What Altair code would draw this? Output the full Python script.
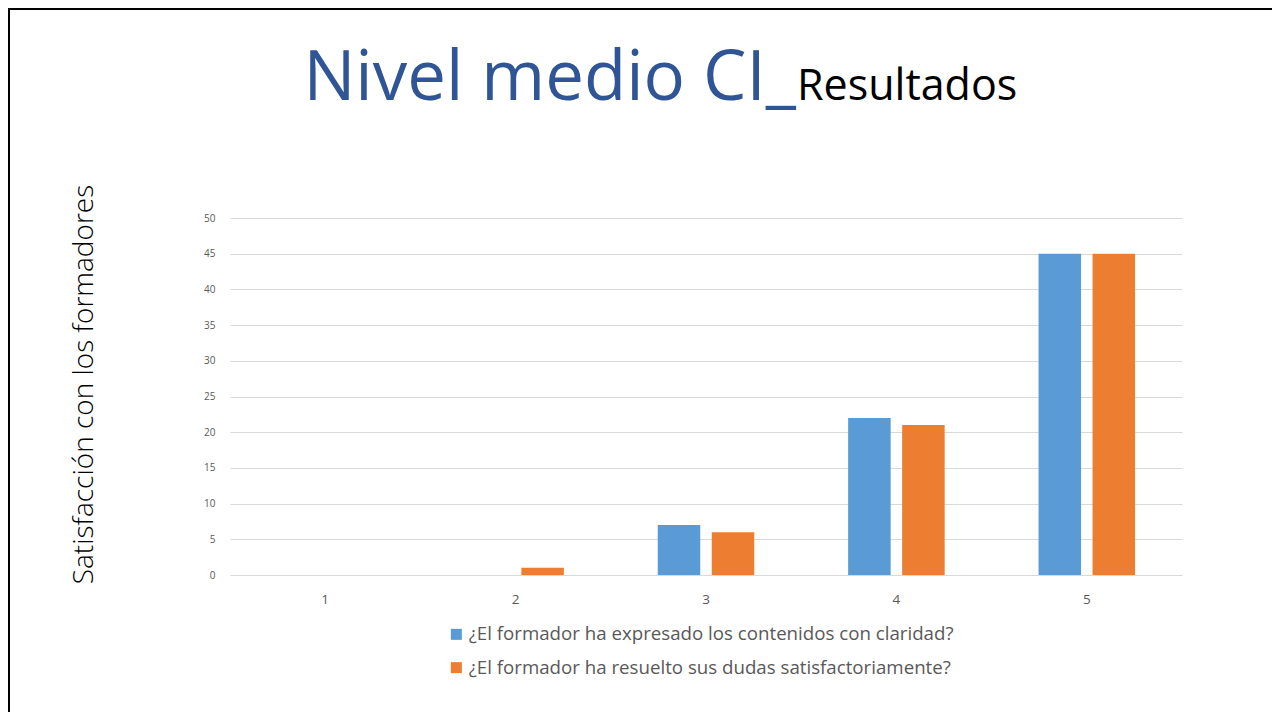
import altair as alt
import pandas as pd

# ---- data ----
categories = ["1", "2", "3", "4", "5"]
series = [
    "¿El formador ha expresado los contenidos con claridad?",
    "¿El formador ha resuelto sus dudas satisfactoriamente?",
]
values_q1 = [0, 0, 7, 22, 45]
values_q2 = [0, 1, 6, 21, 45]
y_ticks = [0, 5, 10, 15, 20, 25, 30, 35, 40, 45, 50]
title_main = "Nivel medio CI_"
title_sub = "Resultados"
y_title = "Satisfacción con los formadores"

rows = []
for c, v1, v2 in zip(categories, values_q1, values_q2):
    rows.append({"nivel": c, "pregunta": series[0], "valor": v1})
    rows.append({"nivel": c, "pregunta": series[1], "valor": v2})
df = pd.DataFrame(rows)

FONT = "Open Sans"
GREY = "#595959"

bars = alt.Chart(df).mark_bar().encode(
    x=alt.X(
        "nivel:N",
        sort=categories,
        scale=alt.Scale(paddingInner=0.493, paddingOuter=0.2465),
        axis=alt.Axis(
            title=None, labelAngle=0, labelFontSize=13.5, labelColor=GREY,
            labelFont=FONT, ticks=False, domain=False, labelPadding=17,
        ),
    ),
    xOffset=alt.XOffset("pregunta:N", sort=series, scale=alt.Scale(paddingInner=0.213)),
    y=alt.Y(
        "valor:Q",
        scale=alt.Scale(domain=[0, 50], nice=False),
        axis=alt.Axis(
            values=y_ticks, title=y_title, titleFont=FONT, titleFontSize=28,
            titleFontWeight=300, titleColor="black", titleAngle=270,
            titleX=-146, titleY=166, titleAlign="center", titleBaseline="middle",
            labelFontSize=10, labelColor=GREY, labelFont=FONT, ticks=False,
            domain=False, labelPadding=15, grid=True, gridColor="#D9D9D9",
            gridWidth=1,
        ),
    ),
    color=alt.Color(
        "pregunta:N",
        sort=series,
        scale=alt.Scale(domain=series, range=["#5B9BD5", "#ED7D31"]),
        legend=alt.Legend(
            title=None, orient="none", legendX=217, legendY=407,
            direction="vertical", symbolType="square", symbolSize=121,
            symbolStrokeWidth=0, labelFontSize=18.7, labelColor=GREY,
            labelFont=FONT, rowPadding=13.3, labelOffset=3, labelLimit=0,
            padding=0,
        ),
    ),
)

t1 = alt.Chart(pd.DataFrame({"t": [title_main]})).mark_text(
    font=FONT, fontSize=69, color="#2F5597", align="right", baseline="alphabetic"
).encode(text="t:N", x=alt.value(566), y=alt.value(-118))

t2 = alt.Chart(pd.DataFrame({"t": [title_sub]})).mark_text(
    font=FONT, fontSize=43, color="black", align="left", baseline="alphabetic"
).encode(text="t:N", x=alt.value(567), y=alt.value(-118))

border_top = alt.Chart(pd.DataFrame({"a": [0]})).mark_rule(
    color="black", strokeWidth=2
).encode(x=alt.value(-222), x2=alt.value(1042), y=alt.value(-209))

border_left = alt.Chart(pd.DataFrame({"a": [0]})).mark_rule(
    color="black", strokeWidth=2
).encode(x=alt.value(-221), y=alt.value(-210), y2=alt.value(494))

chart = alt.layer(bars, t1, t2, border_top, border_left).properties(
    width=952,
    height=357,
    autosize=alt.AutoSizeParams(type="none"),
    padding={"left": 222, "top": 210, "right": 90, "bottom": 137},
).configure_view(stroke=None)

chart.save("out.html", embed_options={"renderer": "svg", "actions": False})
